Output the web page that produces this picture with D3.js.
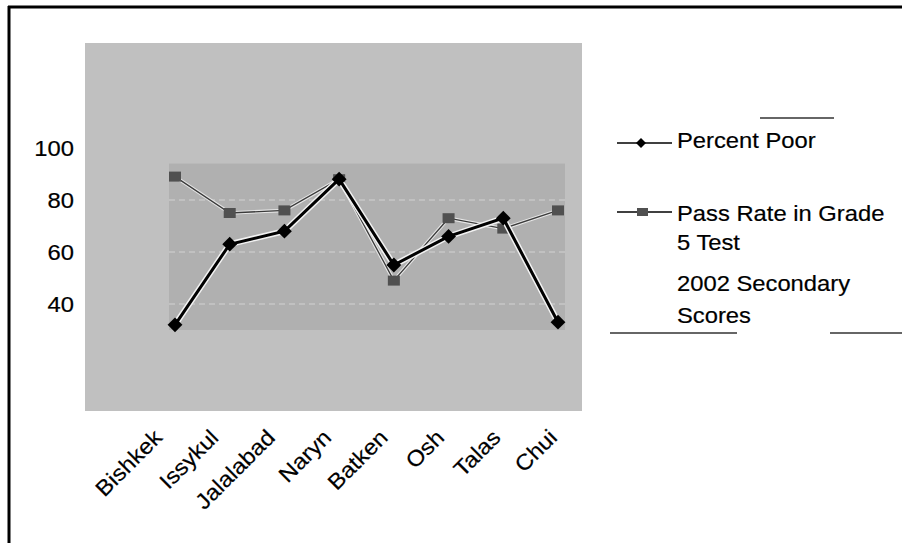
<!DOCTYPE html>
<html>
<head>
<meta charset="utf-8">
<script src="https://cdn.jsdelivr.net/npm/d3@7"></script>
<style>
  body { margin: 0; background: #fff; }
  svg text { font-family: "Liberation Sans", Arial, sans-serif; fill: #000; stroke: #000; stroke-width: 0.2px; }
</style>
</head>
<body>
<div id="chart"></div>
<script>
// data
var regions = ['Bishkek', 'Issykul', 'Jalalabad', 'Naryn', 'Batken', 'Osh', 'Talas', 'Chui'];
var percentPoor = [32, 63, 68, 88, 55, 66, 73, 33];
var passRate = [89, 75, 76, 88, 49, 73, 69, 76];
var yTicks = [40, 60, 80, 100];
var seriesNames = ['Percent Poor', 'Pass Rate in Grade'];

var width = 902, height = 543;
var stretch = 1.08; // the scan is a bit wider than plain Arial

var svg = d3.select('#chart').append('svg')
    .attr('width', width)
    .attr('height', height);

// widen text a little so it matches the scan
function widen(sel) {
    sel.each(function () {
        var w = this.getComputedTextLength();
        d3.select(this).attr('textLength', w * stretch).attr('lengthAdjust', 'spacingAndGlyphs');
    });
}

// scales
var x = d3.scalePoint().domain(regions).range([175, 558]);
var y = d3.scaleLinear().domain([40, 100]).range([304, 148]);
// the rotated labels sit on a slightly wider spacing than the points
var xLabel = d3.scalePoint().domain(regions).range([152, 547]);

// frame of the scanned page (top and left only)
svg.append('line').attr('x1', 8).attr('x2', width).attr('y1', 7).attr('y2', 7)
    .attr('stroke', '#000').attr('stroke-width', 3);
svg.append('line').attr('x1', 9).attr('x2', 9).attr('y1', 6).attr('y2', height)
    .attr('stroke', '#000').attr('stroke-width', 3);

// grey chart area
svg.append('rect').attr('x', 85).attr('y', 43).attr('width', 497).attr('height', 368)
    .attr('fill', '#c0c0c0');

// darker inner plot area
svg.append('rect')
    .attr('x', x(regions[0]) - 6)
    .attr('y', y(94))
    .attr('width', x(regions[regions.length - 1]) - x(regions[0]) + 13)
    .attr('height', y(30) - y(94))
    .attr('fill', '#b0b0b0');

// faint grid lines
svg.append('g').selectAll('line')
    .data([40, 60, 80])
    .enter()
    .append('line')
    .attr('x1', x(regions[0]) - 6)
    .attr('x2', x(regions[regions.length - 1]) + 7)
    .attr('y1', d => y(d))
    .attr('y2', d => y(d))
    .attr('stroke', '#d2d2d2')
    .attr('stroke-width', 1)
    .attr('stroke-dasharray', '6,4');

// y axis
var yAxis = svg.append('g')
    .attr('transform', 'translate(74,0)')
    .call(d3.axisLeft(y).tickValues(yTicks).tickSize(0).tickPadding(0));
yAxis.select('.domain').remove();
yAxis.selectAll('text')
    .attr('font-size', '22px')
    .attr('font-family', '"Liberation Sans", Arial, sans-serif')
    .attr('dy', '0.36em')
    .call(widen);

// x axis labels, rotated
var xAxis = svg.append('g')
    .attr('transform', 'translate(0,428)')
    .call(d3.axisBottom(xLabel).tickSize(0).tickPadding(0));
xAxis.select('.domain').remove();
xAxis.selectAll('text')
    .attr('font-size', '22px')
    .attr('font-family', '"Liberation Sans", Arial, sans-serif')
    .attr('text-anchor', 'end')
    .attr('dy', '0.7em')
    .attr('transform', 'rotate(-45)')
    .call(widen);

var line = d3.line().x((d, i) => x(regions[i])).y(d => y(d));

// pass rate series
svg.append('path').datum(passRate)
    .attr('d', line).attr('fill', 'none')
    .attr('stroke', '#e6e6e6').attr('stroke-width', 3.5);
svg.append('path').datum(passRate)
    .attr('d', line).attr('fill', 'none')
    .attr('stroke', '#3a3a3a').attr('stroke-width', 1.3);
svg.append('g').selectAll('rect')
    .data(passRate)
    .enter()
    .append('rect')
    .attr('x', (d, i) => x(regions[i]) - 6)
    .attr('y', d => y(d) - 5)
    .attr('width', 12)
    .attr('height', 10)
    .attr('fill', '#505050');

// percent poor series
svg.append('path').datum(percentPoor)
    .attr('d', line).attr('fill', 'none')
    .attr('stroke', '#f2f2f2').attr('stroke-width', 6);
svg.append('path').datum(percentPoor)
    .attr('d', line).attr('fill', 'none')
    .attr('stroke', '#000').attr('stroke-width', 3);
var diamond = d3.symbol().type(d3.symbolSquare).size(110);
svg.append('g').selectAll('path')
    .data(percentPoor)
    .enter()
    .append('path')
    .attr('d', diamond)
    .attr('transform', (d, i) => 'translate(' + x(regions[i]) + ',' + y(d) + ') rotate(45)')
    .attr('fill', '#000');

// legend
var legend = svg.append('g');
legend.append('line').attr('x1', 760).attr('x2', 834).attr('y1', 118).attr('y2', 118)
    .attr('stroke', '#333').attr('stroke-width', 1.5);
legend.append('line').attr('x1', 610).attr('x2', 737).attr('y1', 333).attr('y2', 333)
    .attr('stroke', '#333').attr('stroke-width', 1.5);
legend.append('line').attr('x1', 830).attr('x2', width).attr('y1', 333).attr('y2', 333)
    .attr('stroke', '#333').attr('stroke-width', 1.5);

legend.append('line').attr('x1', 617).attr('x2', 672).attr('y1', 143).attr('y2', 143)
    .attr('stroke', '#000').attr('stroke-width', 1.5);
legend.append('path').attr('d', d3.symbol().type(d3.symbolSquare).size(50))
    .attr('transform', 'translate(641,143) rotate(45)').attr('fill', '#000');

legend.append('line').attr('x1', 617).attr('x2', 672).attr('y1', 212).attr('y2', 212)
    .attr('stroke', '#000').attr('stroke-width', 1.5);
legend.append('rect').attr('x', 637).attr('y', 208).attr('width', 11).attr('height', 8)
    .attr('fill', '#505050');

var legendLines = [
    { text: seriesNames[0], y: 148 },
    { text: seriesNames[1], y: 221 },
    { text: '5 Test', y: 250 },
    { text: '2002 Secondary', y: 291 },
    { text: 'Scores', y: 323 }
];
legend.selectAll('text.item')
    .data(legendLines)
    .enter()
    .append('text')
    .attr('class', 'item')
    .attr('x', 677)
    .attr('y', d => d.y)
    .attr('font-size', '22px')
    .text(d => d.text)
    .call(widen);
</script>
</body>
</html>
